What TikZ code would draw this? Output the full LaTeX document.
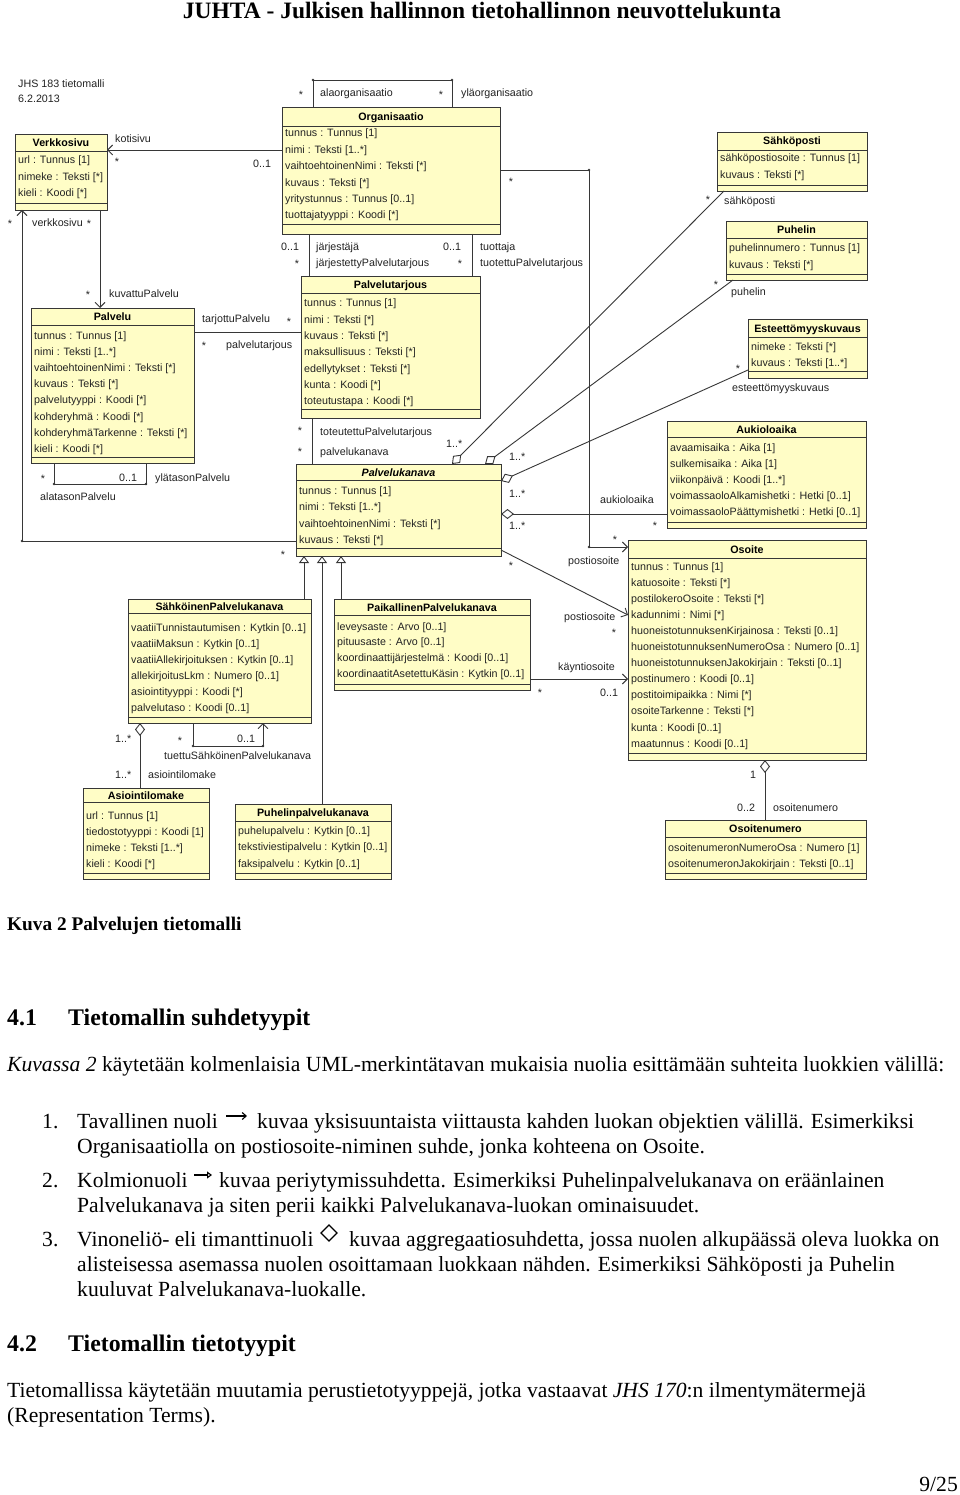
\documentclass[tikz,border=0pt]{standalone}
\usepackage{fontspec}
\setmainfont{Liberation Serif}
\newfontfamily\dsans{Liberation Sans}
\usetikzlibrary{arrows.meta,fit}
\definecolor{umlfill}{RGB}{255,253,198}
\definecolor{umlline}{RGB}{55,55,55}
\definecolor{umltext}{RGB}{35,35,35}
\tikzset{
  classbox/.style={draw=umlline, fill=umlfill, line width=0.9pt, inner sep=0pt, outer sep=0pt},
  compline/.style={draw=umlline, line width=0.9pt},
  dtext/.style={font=\dsans\fontsize{10.7}{12}\selectfont, text=umltext, inner sep=0pt, anchor=base west},
  ctitle/.style={font=\dsans\bfseries\fontsize{10.7}{12}\selectfont, text=black, inner sep=0pt, anchor=base},
  assoc/.style={draw=umlline, line width=0.9pt},
  navarrow/.style={-{Straight Barb[length=5pt,width=10pt]}},
  inherit/.style={-{Triangle[length=7pt,width=10pt,fill=white]}},
  aggr/.style={{Diamond[length=13pt,width=10pt,fill=white]}-},
  jointdot/.style={circle, fill=umlline, inner sep=0pt, minimum size=2.8pt},
  bodytext/.style={font=\fontsize{21.6}{25}\selectfont, inner sep=0pt, anchor=base west},
  headtext/.style={font=\bfseries\fontsize{23.8}{27}\selectfont, inner sep=0pt, anchor=base west},
}
\newcommand{\umlclass}[8]{%
  \node[classbox, fit={(#2,#3) (#4,#5)}] (#1) {};
  \draw[compline] (#1.west |- 0,#6) -- (#1.east |- 0,#6);
  \draw[compline] (#1.west |- 0,#7) -- (#1.east |- 0,#7);
  \node[ctitle] (#1-title) at ({(#2+#4)/2},{(#3+#6)/2+4}) {#8};
}
\newcommand{\umlattrs}[5]{%
  \foreach \t [count=\i] in {#5} {
    \node[dtext] (#1-a\i) at ({#2+3},{#3+4+(\i-1)*#4}) {\t};
  }
}
\newcommand{\lbl}[4]{\node[dtext] (#1) at (#2,{#3+4}) {#4};}
\newcommand{\mstar}[3]{\node[dtext, anchor=base] (#1) at (#2,{#3+6}) {*};}
\begin{document}
\begin{tikzpicture}[x=1pt,y=-1pt]
\useasboundingbox (0,0) rectangle (960,1495);
\fill[white] (0,0) rectangle (960,1495);

\node[font=\bfseries\fontsize{23.5}{26}\selectfont, anchor=base, inner sep=0pt] (hdr) at (482,19) {JUHTA - Julkisen hallinnon tietohallinnon neuvottelukunta};

\lbl{jhs1}{18}{84}{JHS 183 tietomalli}
\lbl{jhs2}{18}{99}{6.2.2013}

% ---------- classes ----------
\umlclass{verk}{15}{134}{107}{210}{151}{203}{Verkkosivu}
\umlattrs{verk}{15}{160}{16.5}{{url : Tunnus [1]},{nimeke : Teksti [*]},{kieli : Koodi [*]}}

\umlclass{org}{282}{107}{500}{234}{126}{224}{Organisaatio}
\umlattrs{org}{282}{133}{16.4}{{tunnus : Tunnus [1]},{nimi : Teksti [1..*]},{vaihtoehtoinenNimi : Teksti [*]},{kuvaus : Teksti [*]},{yritystunnus : Tunnus [0..1]},{tuottajatyyppi : Koodi [*]}}

\umlclass{sposti}{717}{132}{867}{191}{150}{185}{Sähköposti}
\umlattrs{sposti}{717}{158}{16.5}{{sähköpostiosoite : Tunnus [1]},{kuvaus : Teksti [*]}}

\umlclass{puh}{726}{221}{867}{280}{238}{274}{Puhelin}
\umlattrs{puh}{726}{248}{16.3}{{puhelinnumero : Tunnus [1]},{kuvaus : Teksti [*]}}

\umlclass{este}{748}{319}{867}{378}{337}{371}{Esteettömyyskuvaus}
\umlattrs{este}{748}{346}{16.3}{{nimeke : Teksti [*]},{kuvaus : Teksti [1..*]}}

\umlclass{palvelu}{31}{308}{194}{463}{325}{457}{Palvelu}
\umlattrs{palvelu}{31}{335}{16.2}{{tunnus : Tunnus [1]},{nimi : Teksti [1..*]},{vaihtoehtoinenNimi : Teksti [*]},{kuvaus : Teksti [*]},{palvelutyyppi : Koodi [*]},{kohderyhmä : Koodi [*]},{kohderyhmäTarkenne : Teksti [*]},{kieli : Koodi [*]}}

\umlclass{ptarj}{301}{276}{480}{418}{293}{409}{Palvelutarjous}
\umlattrs{ptarj}{301}{303}{16.3}{{tunnus : Tunnus [1]},{nimi : Teksti [*]},{kuvaus : Teksti [*]},{maksullisuus : Teksti [*]},{edellytykset : Teksti [*]},{kunta : Koodi [*]},{toteutustapa : Koodi [*]}}

\umlclass{pkan}{296}{464}{501}{556}{480}{548}{\itshape Palvelukanava}
\umlattrs{pkan}{296}{490}{16.5}{{tunnus : Tunnus [1]},{nimi : Teksti [1..*]},{vaihtoehtoinenNimi : Teksti [*]},{kuvaus : Teksti [*]}}

\umlclass{auki}{667}{421}{866}{528}{437}{522}{Aukioloaika}
\umlattrs{auki}{667}{447}{16.2}{{avaamisaika : Aika [1]},{sulkemisaika : Aika [1]},{viikonpäivä : Koodi [1..*]},{voimassaoloAlkamishetki : Hetki [0..1]},{voimassaoloPäättymishetki : Hetki [0..1]}}

\umlclass{osoite}{628}{540}{866}{760}{558}{753}{Osoite}
\umlattrs{osoite}{628}{566}{16.1}{{tunnus : Tunnus [1]},{katuosoite : Teksti [*]},{postilokeroOsoite : Teksti [*]},{kadunnimi : Nimi [*]},{huoneistotunnuksenKirjainosa : Teksti [0..1]},{huoneistotunnuksenNumeroOsa : Numero [0..1]},{huoneistotunnuksenJakokirjain : Teksti [0..1]},{postinumero : Koodi [0..1]},{postitoimipaikka : Nimi [*]},{osoiteTarkenne : Teksti [*]},{kunta : Koodi [0..1]},{maatunnus : Koodi [0..1]}}

\umlclass{onum}{665}{820}{866}{879}{837}{873}{Osoitenumero}
\umlattrs{onum}{665}{847}{16.2}{{osoitenumeronNumeroOsa : Numero [1]},{osoitenumeronJakokirjain : Teksti [0..1]}}

\umlclass{sahk}{128}{599}{311}{723}{613}{717}{SähköinenPalvelukanava}
\umlattrs{sahk}{128}{627}{16}{{vaatiiTunnistautumisen : Kytkin [0..1]},{vaatiiMaksun : Kytkin [0..1]},{vaatiiAllekirjoituksen : Kytkin [0..1]},{allekirjoitusLkm : Numero [0..1]},{asiointityyppi : Koodi [*]},{palvelutaso : Koodi [0..1]}}

\umlclass{paik}{334}{599}{530}{690}{615}{684}{PaikallinenPalvelukanava}
\umlattrs{paik}{334}{626}{15.9}{{leveysaste : Arvo [0..1]},{pituusaste : Arvo [0..1]},{koordinaattijärjestelmä : Koodi [0..1]},{koordinaatitAsetettuKäsin : Kytkin [0..1]}}

\umlclass{asio}{83}{788}{209}{879}{802}{873}{Asiointilomake}
\umlattrs{asio}{83}{815}{16}{{url : Tunnus [1]},{tiedostotyyppi : Koodi [1]},{nimeke : Teksti [1..*]},{kieli : Koodi [*]}}

\umlclass{puhpk}{235}{804}{391}{879}{821}{873}{Puhelinpalvelukanava}
\umlattrs{puhpk}{235}{830}{16.5}{{puhelupalvelu : Kytkin [0..1]},{tekstiviestipalvelu : Kytkin [0..1]},{faksipalvelu : Kytkin [0..1]}}

% ---------- connectors ----------
\draw[assoc] (313,0 |- org.north) -- (313,80) -- (452,80) -- (452,0 |- org.north);
\node[jointdot] (d1) at (313,80) {};
\node[jointdot] (d2) at (452,80) {};
\draw[assoc,navarrow] (org.west |- 0,150) -- (verk.east |- 0,150);
\draw[assoc,navarrow] (pkan.west |- 0,541) -| (22,0 |- verk.south);
\node[jointdot] (d3) at (22,541) {};
\draw[assoc,navarrow] (100,0 |- verk.south) -- (100,0 |- palvelu.north);
\draw[assoc] (palvelu.east |- 0,332) -- (ptarj.west |- 0,332);
\draw[assoc] (54,0 |- palvelu.south) -- (54,484) -- (146,484) -- (146,0 |- palvelu.south);
\node[jointdot] (d4) at (54,484) {};
\node[jointdot] (d5) at (146,484) {};
\draw[assoc] (309,0 |- org.south) -- (309,0 |- ptarj.north);
\draw[assoc] (472,0 |- org.south) -- (472,0 |- ptarj.north);
\draw[assoc,navarrow] (org.east |- 0,170) -- (589,170) -- (589,547) -- (osoite.west |- 0,547);
\node[jointdot] (d6) at (589,170) {};
\node[jointdot] (d7) at (589,547) {};
\draw[assoc] (312,0 |- ptarj.south) -- (312,0 |- pkan.north);
\draw[assoc,aggr] (452,0 |- pkan.north) -- (724,0 |- sposti.south);
\draw[assoc,aggr] (485,0 |- pkan.north) -- (733,0 |- puh.south);
\draw[assoc,aggr] (pkan.east |- 0,481) -- (este.west |- 0,370);
\draw[assoc,aggr] (pkan.east |- 0,514) -- (auki.west |- 0,514);
\draw[assoc,navarrow] (pkan.east |- 0,550) -- (osoite.west |- 0,615);
\draw[assoc,navarrow] (paik.east |- 0,679) -- (osoite.west |- 0,679);
\draw[assoc,inherit] (304,0 |- sahk.north) -- (304,0 |- pkan.south);
\draw[assoc,inherit] (322,0 |- puhpk.north) -- (322,0 |- pkan.south);
\draw[assoc,inherit] (341,0 |- paik.north) -- (341,0 |- pkan.south);
\draw[assoc,navarrow] (193,0 |- sahk.south) -- (193,746) -- (263,746) -- (263,0 |- sahk.south);
\node[jointdot] (d8) at (193,746) {};
\node[jointdot] (d9) at (263,746) {};
\draw[assoc,aggr] (140,0 |- sahk.south) -- (140,0 |- asio.north);
\draw[assoc,aggr] (765,0 |- osoite.south) -- (765,0 |- onum.north);

% ---------- labels ----------
\mstar{s1}{301}{93}
\lbl{l1}{320}{93}{alaorganisaatio}
\mstar{s2}{441}{93}
\lbl{l2}{461}{93}{yläorganisaatio}
\lbl{l3}{115}{139}{kotisivu}
\mstar{s3}{117}{160}
\lbl{l4}{253}{164}{0..1}
\mstar{s4}{10}{222}
\lbl{l5}{32}{223}{verkkosivu}
\mstar{s5}{89}{222}
\mstar{s6}{88}{293}
\lbl{l6}{109}{294}{kuvattuPalvelu}
\lbl{l7}{281}{247}{0..1}
\lbl{l8}{316}{247}{järjestäjä}
\mstar{s7}{297}{262}
\lbl{l9}{316}{263}{järjestettyPalvelutarjous}
\lbl{l10}{443}{247}{0..1}
\mstar{s8}{460}{262}
\lbl{l11}{480}{247}{tuottaja}
\lbl{l12}{480}{263}{tuotettuPalvelutarjous}
\mstar{s9}{511}{180}
\lbl{l13}{202}{319}{tarjottuPalvelu}
\mstar{s10}{289}{319}
\mstar{s11}{204}{343}
\lbl{l14}{226}{344}{palvelutarjous}
\mstar{s12}{43}{476}
\lbl{l15}{119}{477}{0..1}
\lbl{l16}{155}{477}{ylätasonPalvelu}
\lbl{l17}{40}{496}{alatasonPalvelu}
\mstar{s13}{300}{428}
\lbl{l18}{320}{431}{toteutettuPalvelutarjous}
\mstar{s14}{300}{449}
\lbl{l19}{320}{451}{palvelukanava}
\mstar{s15}{283}{552}
\lbl{l20}{446}{443}{1..*}
\lbl{l21}{509}{456}{1..*}
\lbl{l22}{509}{493}{1..*}
\lbl{l23}{509}{525}{1..*}
\mstar{s16}{708}{198}
\lbl{l24}{724}{201}{sähköposti}
\mstar{s17}{716}{283}
\lbl{l25}{731}{292}{puhelin}
\mstar{s18}{738}{366}
\lbl{l26}{732}{387}{esteettömyyskuvaus}
\lbl{l27}{600}{499}{aukioloaika}
\mstar{s19}{655}{523}
\mstar{s20}{615}{537}
\lbl{l28}{568}{560}{postiosoite}
\mstar{s21}{511}{563}
\lbl{l29}{564}{616}{postiosoite}
\mstar{s22}{614}{630}
\lbl{l30}{558}{666}{käyntiosoite}
\lbl{l31}{600}{692}{0..1}
\mstar{s23}{540}{690}
\lbl{l32}{750}{774}{1}
\lbl{l33}{737}{807}{0..2}
\lbl{l34}{773}{807}{osoitenumero}
\mstar{s24}{180}{738}
\lbl{l35}{237}{738}{0..1}
\lbl{l36}{164}{755}{tuettuSähköinenPalvelukanava}
\lbl{l37}{115}{738}{1..*}
\lbl{l38}{115}{774}{1..*}
\lbl{l39}{148}{774}{asiointilomake}

% ---------- text below ----------
\node[bodytext, font=\bfseries\fontsize{19.3}{23}\selectfont] (cap) at (7,930) {Kuva 2 Palvelujen tietomalli};
\node[headtext] (h41n) at (7,1025) {4.1};
\node[headtext] (h41) at (68,1025) {Tietomallin suhdetyypit};
\node[bodytext] (p1) at (7,1071) {\textit{Kuvassa 2} käytetään kolmenlaisia UML-merkintätavan mukaisia nuolia esittämään suhteita luokkien välillä:};

\node[bodytext] (n1) at (42,1128) {1.};
\node[bodytext] (i1a) at (77,1128) {Tavallinen nuoli};
\coordinate (ic1s) at (226,1116);
\coordinate (ic1e) at (247,1116);
\draw[line width=1.1pt, -{Straight Barb[length=4pt,width=7pt]}] (ic1s) -- (ic1e);
\node[bodytext] (i1b) at (257,1128) {kuvaa yksisuuntaista viittausta kahden luokan objektien välillä. Esimerkiksi};
\node[bodytext] (i1c) at (77,1153) {Organisaatiolla on postiosoite-niminen suhde, jonka kohteena on Osoite.};

\node[bodytext] (n2) at (42,1187) {2.};
\node[bodytext] (i2a) at (77,1187) {Kolmionuoli};
\coordinate (ic2s) at (194,1175);
\coordinate (ic2e) at (212,1175);
\draw[line width=1.1pt, -{Triangle[open,length=5pt,width=7pt]}] (ic2s) -- (ic2e);
\node[bodytext] (i2b) at (219,1187) {kuvaa periytymissuhdetta. Esimerkiksi Puhelinpalvelukanava on eräänlainen};
\node[bodytext] (i2c) at (77,1212) {Palvelukanava ja siten perii kaikki Palvelukanava-luokan ominaisuudet.};

\node[bodytext] (n3) at (42,1246) {3.};
\node[bodytext] (i3a) at (77,1246) {Vinoneliö- eli timanttinuoli};
\draw[line width=1.3pt] (329,1225) -- (337,1233) -- (329,1241) -- (321,1233) -- cycle;
\node[bodytext] (i3b) at (349,1246) {kuvaa aggregaatiosuhdetta, jossa nuolen alkupäässä oleva luokka on};
\node[bodytext] (i3c) at (77,1271) {alisteisessa asemassa nuolen osoittamaan luokkaan nähden. Esimerkiksi Sähköposti ja Puhelin};
\node[bodytext] (i3d) at (77,1296) {kuuluvat Palvelukanava-luokalle.};

\node[headtext] (h42n) at (7,1351) {4.2};
\node[headtext] (h42) at (68,1351) {Tietomallin tietotyypit};
\node[bodytext] (p2) at (7,1397) {Tietomallissa käytetään muutamia perustietotyyppejä, jotka vastaavat \textit{JHS 170}:n ilmentymätermejä};
\node[bodytext] (p3) at (7,1422) {(Representation Terms).};
\node[bodytext, anchor=base east] (pg) at (958,1491) {9/25};
\end{tikzpicture}
\end{document}
